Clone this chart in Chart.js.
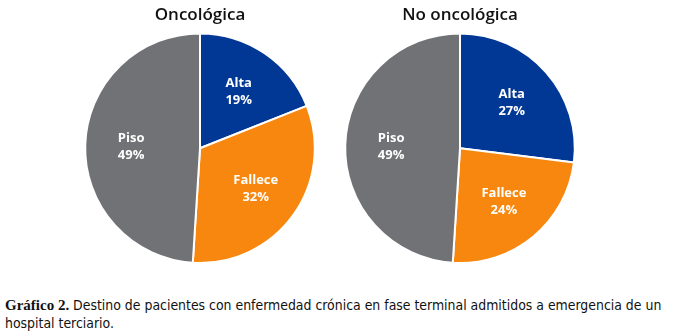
<!DOCTYPE html>
<html>
<head>
<meta charset="utf-8">
<script src="https://cdn.jsdelivr.net/npm/chart.js@4"></script>
<style>
  body { margin: 0; background: #fff; width: 674px; height: 336px; position: relative; overflow: hidden; }
  .pie { position: absolute; top: 0; width: 240px; height: 264px; }
  #caption {
    position: absolute; left: 5px; top: 296px; width: 672px; white-space: nowrap;
    font-family: "Liberation Sans Narrow", "DejaVu Sans Condensed", sans-serif;
    font-size: 13.9px; line-height: 18px; color: #111;
  }
  #caption b { font-family: "Liberation Serif", serif; font-size: 15px; }
</style>
</head>
<body>
<canvas id="chartOnco" class="pie" style="left:80px" width="240" height="264"></canvas>
<canvas id="chartNoOnco" class="pie" style="left:340px" width="240" height="264"></canvas>
<div id="caption"><b>Gráfico 2.</b> Destino de pacientes con enfermedad crónica en fase terminal admitidos a emergencia de un<br>hospital terciario.</div>

<script>
const CATEGORIES = ['Alta', 'Fallece', 'Piso'];
const ONCO_VALUES = [19, 32, 49];
const NO_ONCO_VALUES = [27, 24, 49];
const SLICE_COLORS = ['#023895', '#f7870e', '#717275'];

// white labels inside each slice: name on top, percent below
const SLICE_LABELS = {
  id: 'sliceLabels',
  afterDatasetDraw(chart, args) {
    const { ctx } = chart;
    const values = chart.data.datasets[0].data;
    args.meta.data.forEach((arc, i) => {
      const mid = (arc.startAngle + arc.endAngle) / 2;
      const r = arc.outerRadius * 0.6;
      const x = arc.x + Math.cos(mid) * r;
      const y = arc.y + Math.sin(mid) * r;
      ctx.save();
      ctx.fillStyle = '#fff';
      ctx.textAlign = 'center';
      ctx.textBaseline = 'middle';
      ctx.font = 'bold 13px "Open Sans", sans-serif';
      ctx.fillText(chart.data.labels[i], x, y - 8);
      ctx.fillText(values[i] + '%', x, y + 9);
      ctx.restore();
    });
  }
};

function makePie(id, title, values) {
  return new Chart(document.getElementById(id), {
    type: 'pie',
    data: {
      labels: CATEGORIES,
      datasets: [{
        data: values,
        backgroundColor: SLICE_COLORS,
        borderColor: '#fff',
        borderWidth: 2
      }]
    },
    options: {
      responsive: false,
      animation: false,
      layout: { padding: 0 },
      plugins: {
        legend: { display: false },
        tooltip: { enabled: false },
        title: {
          display: true,
          text: title,
          color: '#111',
          font: { family: '"Open Sans", sans-serif', size: 17, weight: '600' },
          padding: { top: 5, bottom: 7 }
        }
      }
    },
    plugins: [SLICE_LABELS]
  });
}

makePie('chartOnco', 'Oncológica', ONCO_VALUES);
makePie('chartNoOnco', 'No oncológica', NO_ONCO_VALUES);
</script>
</body>
</html>
